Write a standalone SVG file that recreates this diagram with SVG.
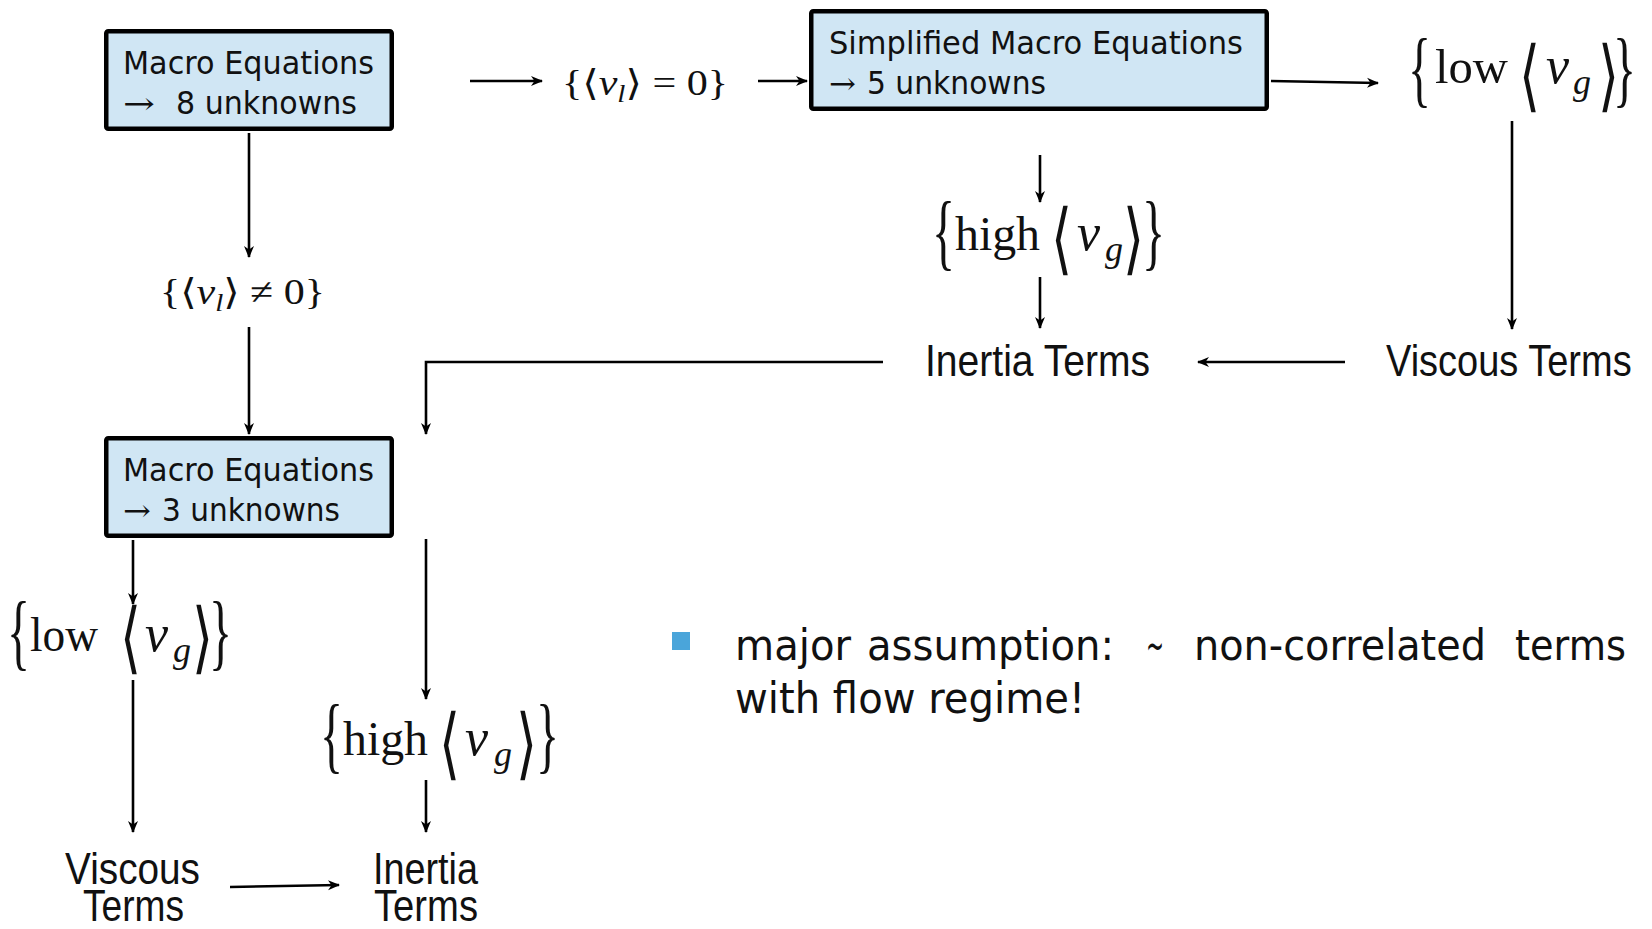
<svg xmlns="http://www.w3.org/2000/svg" width="1652" height="929" viewBox="0 0 1652 929">
<style>
.box{fill:#d0e6f4;stroke:#000;stroke-width:4.5}
.bt{font-family:"DejaVu Sans",sans-serif;font-size:32px;fill:#111}
.ar{font-family:"DejaVu Serif","Liberation Serif",serif;font-size:30px;fill:#111}
.lb{font-family:"Liberation Sans",Arial,sans-serif;font-size:45px;fill:#111}
.m{font-family:"Liberation Serif","DejaVu Serif",serif;font-size:36px;fill:#111}
.w{font-family:"Liberation Serif",serif;font-size:48px;fill:#111}
.br{font-family:"Liberation Serif",serif;font-size:48px;fill:#111}
.ang{font-family:"DejaVu Sans",sans-serif;font-size:40px;fill:#111}
.v{font-family:"Liberation Serif",serif;font-style:italic;font-size:52px;fill:#111}
.g{font-family:"Liberation Serif",serif;font-style:italic;font-size:36px;fill:#111}
.bl{font-family:"DejaVu Sans",sans-serif;font-size:42px;fill:#111}
.c{fill:none;stroke:#000;stroke-width:2.6}
</style>
<defs>
<marker id="ah" viewBox="0 0 12 12" refX="11" refY="6" markerWidth="12" markerHeight="12" orient="auto" markerUnits="userSpaceOnUse">
<path d="M0,1 L12,6 L0,11 L3.5,6 z" fill="#000"/>
</marker>
</defs>

<g id="connectors">
<path class="c" d="M470,81 H542" marker-end="url(#ah)"/>
<path class="c" d="M758,81 H807" marker-end="url(#ah)"/>
<path class="c" d="M1271,81 L1378,83" marker-end="url(#ah)"/>
<path class="c" d="M1040,155 V202" marker-end="url(#ah)"/>
<path class="c" d="M1040,277 V328" marker-end="url(#ah)"/>
<path class="c" d="M1512,121 V329" marker-end="url(#ah)"/>
<path class="c" d="M1345,362 H1198" marker-end="url(#ah)"/>
<path class="c" d="M883,362 H426 V434" marker-end="url(#ah)"/>
<path class="c" d="M249,133 V257" marker-end="url(#ah)"/>
<path class="c" d="M249,327 V434" marker-end="url(#ah)"/>
<path class="c" d="M133,540 V604" marker-end="url(#ah)"/>
<path class="c" d="M133,680 V832" marker-end="url(#ah)"/>
<path class="c" d="M426,539 V699" marker-end="url(#ah)"/>
<path class="c" d="M426,780 V832" marker-end="url(#ah)"/>
<path class="c" d="M230,887 L339,885" marker-end="url(#ah)"/>
</g>

<g id="macro8">
<rect class="box" x="106.25" y="31.25" width="285.5" height="97.5" rx="2"/>
<text class="bt" x="123" y="74" textLength="251" lengthAdjust="spacingAndGlyphs">Macro Equations</text>
<text class="ar" x="123" y="114" textLength="32" lengthAdjust="spacingAndGlyphs">→</text>
<text class="bt" x="176" y="114" textLength="181" lengthAdjust="spacingAndGlyphs">8 unknowns</text>
</g>

<g id="vl-zero">
<text class="m" x="562" y="95" textLength="166" lengthAdjust="spacingAndGlyphs">{⟨<tspan font-style="italic">v</tspan><tspan font-style="italic" font-size="25" dy="7">l</tspan><tspan dy="-7">⟩ = 0}</tspan></text>
</g>

<g id="simplified">
<rect class="box" x="811.25" y="11.25" width="455.5" height="97.5" rx="2"/>
<text class="bt" x="829" y="54" textLength="414" lengthAdjust="spacingAndGlyphs">Simplified Macro Equations</text>
<text class="ar" x="829" y="94" textLength="27" lengthAdjust="spacingAndGlyphs">→</text>
<text class="bt" x="867" y="94" textLength="179" lengthAdjust="spacingAndGlyphs">5 unknowns</text>
</g>

<g id="low-vg-top">
<text class="br" transform="translate(1408,97) scale(1,1.76)">{</text>
<text class="w" x="1435" y="83" textLength="73" lengthAdjust="spacingAndGlyphs">low</text>
<text class="ang" transform="translate(1519,102) scale(1.35,1.95)">⟨</text>
<text class="v" x="1546" y="83">v</text>
<text class="g" x="1573" y="94">g</text>
<text class="ang" transform="translate(1598,102) scale(1.35,1.95)">⟩</text>
<text class="br" transform="translate(1613,97) scale(1,1.76)">}</text>
</g>

<g id="high-vg-top">
<text class="br" transform="translate(932,260) scale(1,1.76)">{</text>
<text class="w" x="955" y="250" textLength="85" lengthAdjust="spacingAndGlyphs">high</text>
<text class="ang" transform="translate(1051,265) scale(1.35,1.95)">⟨</text>
<text class="v" x="1077" y="250">v</text>
<text class="g" x="1105" y="261">g</text>
<text class="ang" transform="translate(1123,265) scale(1.35,1.95)">⟩</text>
<text class="br" transform="translate(1142,260) scale(1,1.76)">}</text>
</g>

<g id="inertia-top">
<text class="lb" x="925" y="376" textLength="225" lengthAdjust="spacingAndGlyphs">Inertia Terms</text>
</g>

<g id="viscous-top">
<text class="lb" style="font-size:38px" transform="translate(1386,376) scale(1,1.185)">Viscous Terms</text>
</g>

<g id="vl-nonzero">
<text class="m" x="160" y="304" textLength="165" lengthAdjust="spacingAndGlyphs">{⟨<tspan font-style="italic">v</tspan><tspan font-style="italic" font-size="25" dy="7">l</tspan><tspan dy="-7">⟩ ≠ 0}</tspan></text>
</g>

<g id="macro3">
<rect class="box" x="106.25" y="438.25" width="285.5" height="97.5" rx="2"/>
<text class="bt" x="123" y="481" textLength="251" lengthAdjust="spacingAndGlyphs">Macro Equations</text>
<text class="ar" x="123" y="521" textLength="28" lengthAdjust="spacingAndGlyphs">→</text>
<text class="bt" x="162" y="521" textLength="178" lengthAdjust="spacingAndGlyphs">3 unknowns</text>
</g>

<g id="low-vg-left">
<text class="br" transform="translate(7,660) scale(1,1.76)">{</text>
<text class="w" x="30" y="651" textLength="68" lengthAdjust="spacingAndGlyphs">low</text>
<text class="ang" transform="translate(120,664) scale(1.35,1.95)">⟨</text>
<text class="v" x="145" y="651">v</text>
<text class="g" x="173" y="662">g</text>
<text class="ang" transform="translate(192,664) scale(1.35,1.95)">⟩</text>
<text class="br" transform="translate(209,660) scale(1,1.76)">}</text>
</g>

<g id="high-vg-left">
<text class="br" transform="translate(320,763) scale(1,1.76)">{</text>
<text class="w" x="343" y="755" textLength="85" lengthAdjust="spacingAndGlyphs">high</text>
<text class="ang" transform="translate(439,770) scale(1.35,1.95)">⟨</text>
<text class="v" x="465" y="755">v</text>
<text class="g" x="494" y="766">g</text>
<text class="ang" transform="translate(516,770) scale(1.35,1.95)">⟩</text>
<text class="br" transform="translate(536,763) scale(1,1.76)">}</text>
</g>

<g id="viscous-bottom">
<text class="lb" x="65" y="884" textLength="135" lengthAdjust="spacingAndGlyphs">Viscous</text>
<text class="lb" x="83" y="921" textLength="101" lengthAdjust="spacingAndGlyphs">Terms</text>
</g>

<g id="inertia-bottom">
<text class="lb" x="373" y="884" textLength="105" lengthAdjust="spacingAndGlyphs">Inertia</text>
<text class="lb" x="374" y="921" textLength="104" lengthAdjust="spacingAndGlyphs">Terms</text>
</g>

<g id="note">
<rect x="672" y="632" width="18" height="18" fill="#4aa5da"/>
<text class="bl" y="660">
<tspan x="735" textLength="116" lengthAdjust="spacingAndGlyphs">major</tspan>
<tspan x="867" textLength="247" lengthAdjust="spacingAndGlyphs">assumption:</tspan>
<tspan x="1146" textLength="18" lengthAdjust="spacingAndGlyphs">~</tspan>
<tspan x="1194" textLength="292" lengthAdjust="spacingAndGlyphs">non-correlated</tspan>
<tspan x="1515" textLength="111" lengthAdjust="spacingAndGlyphs">terms</tspan>
</text>
<text class="bl" x="735" y="713" textLength="350" lengthAdjust="spacingAndGlyphs">with flow regime!</text>
</g>
</svg>
